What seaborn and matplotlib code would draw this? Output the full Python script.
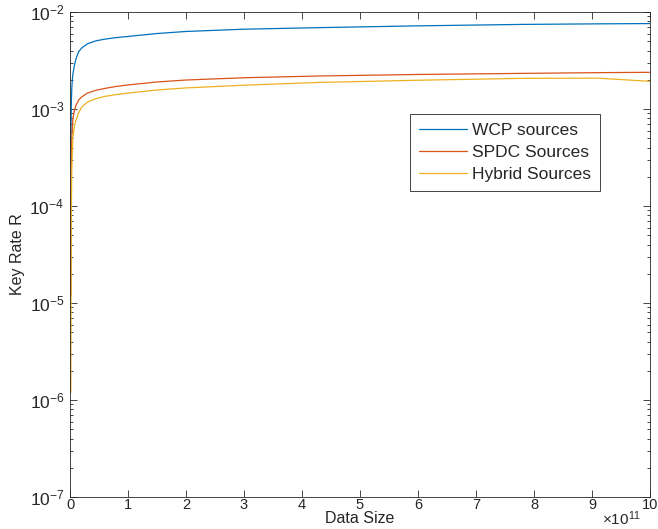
import numpy as np
import pandas as pd
import matplotlib
matplotlib.use("Agg")
import matplotlib.pyplot as plt
import matplotlib.ticker as mticker
import seaborn as sns

# data size (in units of 1e11) and key rates
data_size = [0.015, 0.018, 0.022, 0.03, 0.04, 0.05, 0.075, 0.1, 0.15, 0.2, 0.3, 0.45,
             0.6, 0.8, 1, 1.5, 2, 3, 4.3, 6, 7.8, 9.1, 10]
wcp_rate = [3e-4, 7e-4, 1.1e-3, 1.6e-3, 2.0e-3, 2.3e-3, 2.8e-3, 3.25e-3, 3.9e-3, 4.25e-3,
            4.7e-3, 5.05e-3, 5.25e-3, 5.45e-3, 5.6e-3, 6.0e-3, 6.3e-3, 6.65e-3, 6.9e-3,
            7.2e-3, 7.45e-3, 7.55e-3, 7.6e-3]
spdc_rate = [1.2e-5, 1e-4, 2.5e-4, 4.5e-4, 6.5e-4, 8.0e-4, 9.6e-4, 1.08e-3, 1.24e-3, 1.33e-3,
             1.46e-3, 1.56e-3, 1.63e-3, 1.71e-3, 1.77e-3, 1.9e-3, 1.99e-3, 2.1e-3, 2.19e-3,
             2.27e-3, 2.33e-3, 2.37e-3, 2.39e-3]
hybrid_rate = [1.2e-6, 2e-5, 8e-5, 2.2e-4, 3.8e-4, 5.2e-4, 6.6e-4, 7.6e-4, 9.2e-4, 1.04e-3,
               1.18e-3, 1.28e-3, 1.35e-3, 1.41e-3, 1.46e-3, 1.57e-3, 1.65e-3, 1.76e-3, 1.88e-3,
               1.98e-3, 2.07e-3, 2.08e-3, 1.93e-3]
series_names = ['WCP sources', 'SPDC Sources', 'Hybrid Sources']
colors = ['#0072BD', '#D95319', '#EDB120']

frames = []
for name, rate in zip(series_names, [wcp_rate, spdc_rate, hybrid_rate]):
    frames.append(pd.DataFrame({'N': data_size, 'R': rate, 'src': name}))
df = pd.concat(frames, ignore_index=True)

sns.set_style("ticks")
plt.rcParams['font.family'] = ['Liberation Sans', 'DejaVu Sans']
plt.rcParams['mathtext.fontset'] = 'custom'
plt.rcParams['mathtext.rm'] = 'Liberation Sans'
plt.rcParams['mathtext.it'] = 'Liberation Sans:italic'
axis_col = '#262626'

fig = plt.figure(figsize=(6.58, 5.29), dpi=100)
ax = fig.add_axes([0.1064, 0.0605, 0.8814, 0.9168])

sns.lineplot(data=df, x='N', y='R', hue='src', palette=dict(zip(series_names, colors)),
             sort=False, estimator=None, linewidth=0.9, ax=ax)

ax.set_yscale('log')
ax.set_ylim(1e-7, 1e-2)
ax.set_xlim(0, 10)
ax.set_xticks(np.arange(0, 11))
ax.yaxis.set_major_formatter(mticker.FuncFormatter(
    lambda v, pos: r'$\mathregular{10^{-%d}}$' % round(-np.log10(v))))
ax.yaxis.set_minor_locator(mticker.LogLocator(base=10, subs=np.arange(2, 10)))
ax.yaxis.set_minor_formatter(mticker.NullFormatter())

ax.set_xlabel('Data Size', fontsize=11.5, color=axis_col)
ax.xaxis.label.set_va('center')
ax.xaxis.set_label_coords(0.5, -22 / 485)
ax.set_ylabel('Key Rate R', fontsize=11.5, color=axis_col, labelpad=3)
ax.tick_params(which='both', direction='in', top=True, right=True,
               labelsize=10.5, colors=axis_col, width=0.6)
ax.tick_params(axis='y', labelsize=12.5, pad=4)
ax.tick_params(which='major', length=5)
ax.tick_params(axis='x', pad=0.5)
ax.tick_params(which='minor', length=2.5)
for s in ax.spines.values():
    s.set_color(axis_col)
    s.set_linewidth(0.6)

# exponent marker for the x axis, as in the original
fig.text(641 / 658, 1 - 528 / 529, r'$\times\mathregular{10^{11}}$', ha='right', va='bottom',
         fontsize=11, color=axis_col)

leg = ax.legend(loc='upper left', bbox_to_anchor=(0.586, 0.79), fontsize=12.5,
                frameon=True, fancybox=False, handlelength=2.8, borderpad=0.5,
                labelspacing=0.4, handletextpad=0.3, borderaxespad=0)
leg.get_frame().set_edgecolor(axis_col)
leg.get_frame().set_linewidth(0.6)
leg.get_frame().set_alpha(1)

fig.savefig('out.png', dpi=100)
